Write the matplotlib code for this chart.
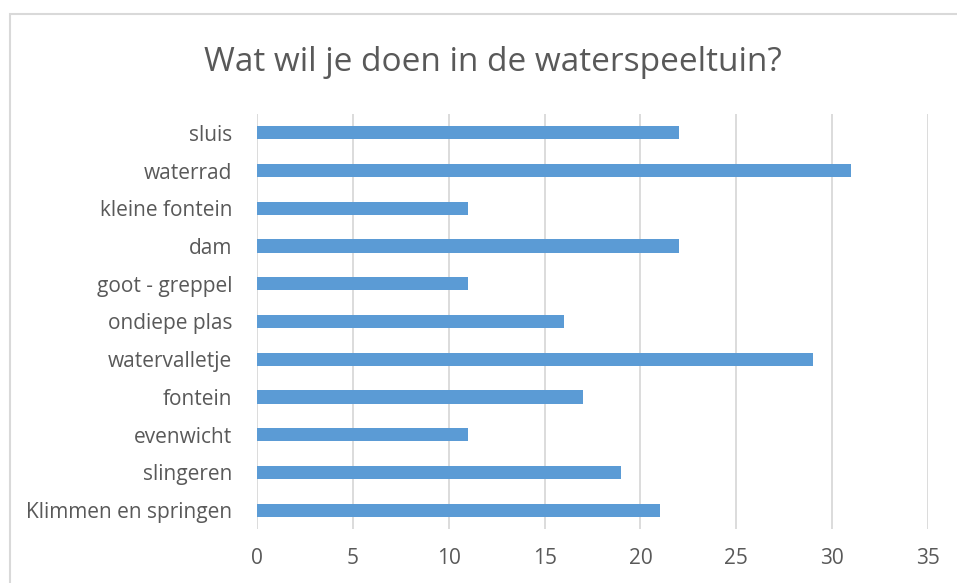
import matplotlib.pyplot as plt
from matplotlib.patches import Rectangle

# Survey data (top to bottom as shown)
categories = ['sluis', 'waterrad', 'kleine fontein', 'dam', 'goot - greppel',
              'ondiepe plas', 'watervalletje', 'fontein', 'evenwicht',
              'slingeren', 'Klimmen en springen']
counts = [22, 31, 11, 22, 11, 16, 29, 17, 11, 19, 21]
ticks = [0, 5, 10, 15, 20, 25, 30, 35]

plt.rcParams['font.family'] = ['Open Sans', 'DejaVu Sans']
text_color = '#595959'
grid_color = '#d9d9d9'

fig = plt.figure(figsize=(9.57, 5.83), dpi=100)
ax = fig.add_axes([0.2686, 0.0926, 0.7011, 0.712])

# plot bottom-up so the first category is at the top
y = list(range(len(categories)))[::-1]
ax.barh(y, counts, height=0.35, color='#5b9bd5', zorder=3)

ax.set_xlim(0, 35)
ax.set_ylim(-0.5, len(categories) - 0.5)
ax.set_xticks(ticks)
ax.set_yticks(y)
ax.set_yticklabels(categories)
ax.tick_params(axis='both', length=0, labelsize=15, colors=text_color)
ax.tick_params(axis='x', pad=14)
ax.tick_params(axis='y', pad=18)
ax.grid(axis='x', color=grid_color, linewidth=1.3, zorder=0)
for s in ax.spines.values():
    s.set_visible(False)

fig.text(0.515, 0.892, 'Wat wil je doen in de waterspeeltuin?', ha='center',
         va='center', fontsize=24, color=text_color)

# chart border (runs off the right/bottom edge like the original crop)
fig.patches.append(Rectangle((10 / 957, -0.1), 1.1, 1 - 14 / 583 + 0.1,
                             transform=fig.transFigure, fill=False,
                             edgecolor=grid_color, linewidth=1.5))

fig.savefig('out.png', dpi=100)
